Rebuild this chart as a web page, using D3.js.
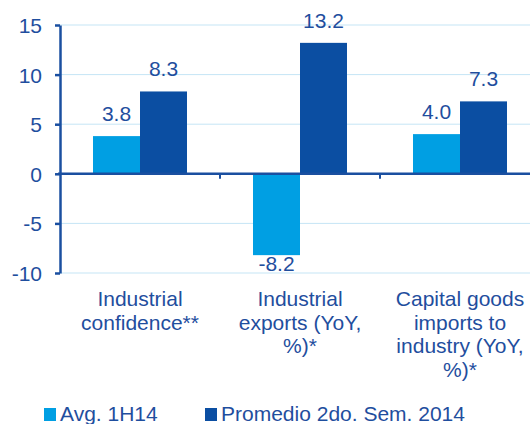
<!DOCTYPE html>
<html><head><meta charset="utf-8">
<script src="https://cdn.jsdelivr.net/npm/d3@7"></script>
<style>body{margin:0;background:#fff}svg{display:block}text{font-family:"Liberation Sans",Arial,sans-serif}</style>
</head><body><svg id="c" width="530" height="424"></svg>
<script>
const categories = [["Industrial","confidence**"],["Industrial","exports (YoY,","%)*"],["Capital goods","imports to","industry (YoY,","%)*"]];
const seriesNames = ["Avg. 1H14","Promedio 2do. Sem. 2014"];
const avg1H14 = [3.8,-8.2,4.0];
const prom2S14 = [8.3,13.2,7.3];
const yTicks = [-10,-5,0,5,10,15];
const colors = ["#009FE3","#0B4EA2"];
const textColor = "#1F4E9E";
const FS = 21;

const svg = d3.select("#c");
const x0 = d3.scaleBand().domain(d3.range(3)).range([60,540]).paddingInner(0).paddingOuter(0);
const y = d3.scaleLinear().domain([-10,15]).range([273,25]);
const x1 = d3.scaleBand().domain([0,1]).range([x0.bandwidth()/2-47, x0.bandwidth()/2+47]);

// grid
svg.append("g").selectAll("line").data(yTicks.filter(d=>d!==0)).join("line")
  .attr("x1",60).attr("x2",530).attr("y1",d=>y(d)).attr("y2",d=>y(d))
  .attr("stroke","#C5E5F5").attr("stroke-width",1);

// bars
const series = [avg1H14, prom2S14];
series.forEach((vals,si)=>{
  svg.append("g").selectAll("rect").data(vals).join("rect")
    .attr("x",(d,i)=>x0(i)+x1(si))
    .attr("width",x1.bandwidth())
    .attr("y",d=>y(Math.max(0,d)))
    .attr("height",d=>Math.abs(y(d)-y(0)))
    .attr("fill",colors[si]);
  svg.append("g").selectAll("text").data(vals).join("text")
    .attr("x",(d,i)=>x0(i)+x1(si)+x1.bandwidth()/2)
    .attr("y",d=>d>=0? y(d)-15 : y(d)+16)
    .attr("text-anchor","middle").attr("font-size",FS).attr("fill",textColor)
    .text(d=>d.toFixed(1));
});

// y axis
const yAxis = d3.axisLeft(y).tickValues(yTicks).tickSize(5).tickSizeOuter(0).tickFormat(d=>String(d));
const ga = svg.append("g").attr("transform","translate(60,0)").call(yAxis);
ga.select(".domain").attr("stroke","#1A4FA0").attr("stroke-width",2.5);
ga.selectAll(".tick line").attr("stroke","#1A4FA0").attr("stroke-width",2.5);
ga.selectAll(".tick text").attr("font-size",FS).attr("fill",textColor).attr("font-family","Liberation Sans, Arial, sans-serif").attr("x",-18).attr("dy","0.36em");

// zero line
svg.append("line").attr("x1",58).attr("x2",530).attr("y1",y(0)).attr("y2",y(0))
  .attr("stroke","#1A4FA0").attr("stroke-width",2.5);
// category separator ticks
svg.append("g").selectAll("line").data([1,2]).join("line")
  .attr("x1",d=>x0(d)).attr("x2",d=>x0(d)).attr("y1",y(0)).attr("y2",y(0)+5)
  .attr("stroke","#1A4FA0").attr("stroke-width",2);

// category labels
categories.forEach((lines,i)=>{
  const t = svg.append("text").attr("text-anchor","middle").attr("font-size",FS).attr("fill",textColor);
  lines.forEach((l,j)=>t.append("tspan").attr("x",x0(i)+x0.bandwidth()/2).attr("y",306+j*23.5).text(l));
});

// legend
const lx = [44,205];
seriesNames.forEach((n,i)=>{
  svg.append("rect").attr("x",lx[i]).attr("y",408).attr("width",12).attr("height",13).attr("fill",colors[i]);
  svg.append("text").attr("x",lx[i]+16).attr("y",421).attr("font-size",FS).attr("fill",textColor).text(n);
});
</script></body></html>
